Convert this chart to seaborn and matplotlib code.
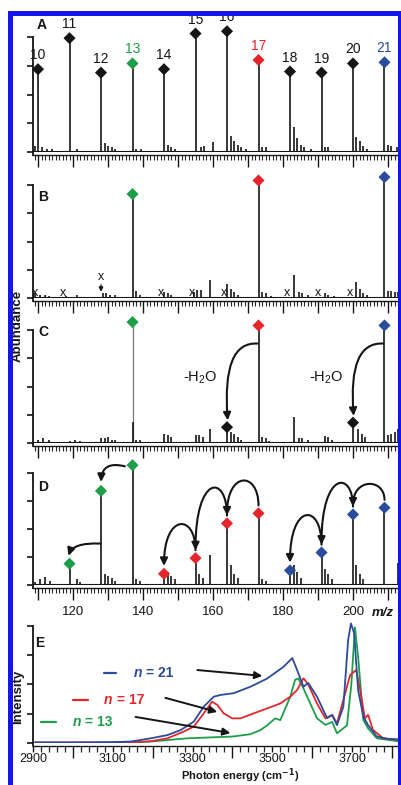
import numpy as np
import pandas as pd
import matplotlib
matplotlib.use("Agg")
import matplotlib.pyplot as plt
import seaborn as sns
from matplotlib.patches import FancyArrowPatch, Rectangle
from matplotlib.path import Path

# ---------------- data ----------------
# Ca2+(H2O)n clusters, m/z of each cluster size
cluster_n = [10, 11, 12, 13, 14, 15, 16, 17, 18, 19, 20, 21]
cluster_mz = [110, 119, 128, 137, 146, 155, 164, 173, 182, 191, 200, 209]

# A: full distribution
abund_a = [0.72, 0.99, 0.69, 0.77, 0.72, 1.03, 1.05, 0.80, 0.70, 0.69, 0.77, 0.78]
small_mz_a = [109, 111, 112.5, 114, 121, 129, 130, 131, 132, 138, 139.5, 147, 148, 149,
              156.5, 157.5, 160, 165, 166, 167, 168, 169.5, 174, 175, 183, 184, 185, 186,
              188, 192, 193, 201, 202, 203, 204, 210, 211, 212.5]
small_h_a = [0.05, 0.04, 0.03, 0.03, 0.03, 0.08, 0.05, 0.04, 0.03, 0.03, 0.03, 0.06, 0.04, 0.03,
             0.04, 0.05, 0.09, 0.14, 0.10, 0.06, 0.04, 0.03, 0.04, 0.04, 0.22, 0.12, 0.06, 0.04,
             0.03, 0.04, 0.04, 0.13, 0.10, 0.05, 0.03, 0.06, 0.05, 0.04]

# B: mass selected n = 13, 17, 21
sel_n = [13, 17, 21]
sel_mz = [137, 173, 209]
abund_b = [0.92, 1.04, 1.07]
xmark_mz = [109, 117, 128, 145, 154, 163, 181, 190, 199]
small_mz_b = [109, 110.5, 112, 113, 118, 121, 128.5, 129.5, 130.5, 132, 138, 139, 146, 147, 148,
              154.5, 155.5, 156.5, 159, 164, 165, 166, 167, 174, 175, 176.5, 183, 184.5, 185.5,
              187, 192, 193, 194.5, 201, 202, 203, 204, 210, 211, 212, 213]
small_h_b = [0.04, 0.03, 0.03, 0.02, 0.02, 0.03, 0.04, 0.04, 0.03, 0.03, 0.06, 0.03, 0.05, 0.04, 0.03,
             0.05, 0.07, 0.07, 0.16, 0.12, 0.08, 0.05, 0.03, 0.05, 0.04, 0.02, 0.20, 0.05, 0.04,
             0.03, 0.04, 0.03, 0.02, 0.14, 0.08, 0.04, 0.03, 0.06, 0.06, 0.05, 0.05]

# C: after irradiation at one wavenumber
abund_c = [1.07, 1.04, 1.04]
loss_mz = [164, 200]
loss_h = [0.14, 0.18]
small_mz_c = [110, 111.5, 113, 119, 120.5, 122, 128, 129, 130, 131, 132, 137, 138, 139, 146, 147,
              148, 155, 156, 157, 159, 165, 166, 167, 168, 174, 175, 176, 183, 184.5, 185.5, 187,
              192, 193, 194, 201.5, 202.5, 203.5, 210, 211, 212, 213]
small_h_c = [0.03, 0.04, 0.03, 0.02, 0.03, 0.02, 0.04, 0.04, 0.05, 0.03, 0.03, 0.19, 0.03, 0.03, 0.08, 0.07,
             0.05, 0.07, 0.07, 0.05, 0.12, 0.10, 0.08, 0.05, 0.03, 0.05, 0.04, 0.02, 0.23, 0.04, 0.04, 0.03,
             0.06, 0.05, 0.03, 0.12, 0.08, 0.05, 0.07, 0.08, 0.10, 0.12]

# D: sequential water loss
d_green_mz = [119, 128, 137]
d_green_h = [0.19, 0.84, 1.07]
d_red_mz = [146, 155, 164, 173]
d_red_h = [0.10, 0.24, 0.55, 0.64]
d_blue_mz = [182, 191, 200, 209]
d_blue_h = [0.13, 0.29, 0.63, 0.69]
red_hop_top = [0.54, 0.86, 0.93]
blue_hop_top = [0.62, 0.90, 0.90]
small_mz_d = [109, 110.5, 112, 113.5, 121, 122, 129, 130, 131, 132, 138, 139, 147, 148, 149,
              156, 157, 159, 165, 166, 167, 174, 175, 183, 184, 185, 192, 193, 194, 201, 202,
              203, 213]
small_h_d = [0.03, 0.05, 0.07, 0.04, 0.05, 0.03, 0.10, 0.08, 0.06, 0.04, 0.05, 0.04, 0.12, 0.08, 0.05,
             0.10, 0.06, 0.27, 0.18, 0.10, 0.06, 0.05, 0.04, 0.18, 0.12, 0.06, 0.14, 0.10, 0.05, 0.18, 0.10,
             0.05, 0.20]

# E: IR spectra
e_energy_21 = [2905, 3000, 3100, 3145, 3195, 3237, 3270, 3303, 3328, 3353, 3370, 3403, 3445, 3487,
               3528, 3550, 3565, 3578, 3590, 3612, 3637, 3650, 3662, 3678, 3690, 3697, 3705, 3715,
               3728, 3740, 3762, 3790, 3820]
e_int_21 = [0.02, 0.02, 0.03, 0.05, 0.16, 0.27, 0.44, 0.73, 1.24, 1.58, 1.64, 1.70, 1.92, 2.20,
            2.60, 2.90, 2.39, 1.92, 2.05, 1.58, 0.85, 0.95, 0.61, 1.24, 3.52, 4.08, 3.75, 1.81,
            0.90, 0.61, 0.22, 0.14, 0.12]
e_energy_17 = [2905, 3000, 3100, 3153, 3195, 3237, 3278, 3303, 3328, 3349, 3362, 3378, 3400, 3420,
               3453, 3487, 3520, 3545, 3562, 3578, 3590, 3612, 3633, 3650, 3662, 3678, 3695, 3710,
               3720, 3732, 3740, 3752, 3778, 3820]
e_int_17 = [0.02, 0.02, 0.02, 0.03, 0.06, 0.16, 0.39, 0.56, 1.01, 1.41, 1.30, 1.01, 0.84, 0.84,
            1.01, 1.18, 1.35, 1.58, 1.81, 2.21, 2.00, 1.35, 0.84, 0.96, 0.67, 1.47, 2.32, 2.49,
            1.81, 0.84, 0.96, 0.45, 0.16, 0.10]
e_energy_13 = [2905, 3000, 3100, 3150, 3195, 3237, 3287, 3362, 3400, 3445, 3470, 3487, 3507, 3520,
               3545, 3557, 3565, 3575, 3595, 3612, 3633, 3650, 3662, 3687, 3698, 3707, 3715, 3728,
               3740, 3762, 3820]
e_int_13 = [0.0, 0.0, 0.0, 0.02, 0.05, 0.10, 0.16, 0.20, 0.22, 0.30, 0.44, 0.60, 0.84, 0.78,
            1.58, 2.16, 2.20, 1.95, 1.35, 0.84, 0.62, 0.72, 0.33, 0.60, 2.00, 3.95, 2.95, 0.79,
            0.50, 0.16, 0.05]

GREEN, RED, BLUE, INK = "#1c9e48", "#e4262c", "#2b4c9c", "#151515"
n_color = {13: GREEN, 17: RED, 21: BLUE}

# ---------------- layout helpers (pixel based) ----------------
W, H = 402, 785
LEFT, RIGHT = 33, 400
MZ_LO, MZ_HI = 120 - 40 / 3.5, 120 + 327 / 3.5

sns.set_style("white")
plt.rcParams["font.family"] = ["Liberation Sans", "DejaVu Sans"]
plt.rcParams["axes.edgecolor"] = INK
plt.rcParams["mathtext.default"] = "regular"

fig = plt.figure(figsize=(W / 100, H / 100), dpi=100)


def px_axes(top, bottom, left=LEFT, right=RIGHT):
    ax = fig.add_axes([left / W, 1 - bottom / H, (right - left) / W, (bottom - top) / H])
    ax.patch.set_alpha(0)
    return ax


def fig_text(x, y, s, **kw):
    fig.text(x / W, 1 - y / H, s, **kw)


def ms_axes(top, base, tick):
    ax = px_axes(top, base)
    ax.set_xlim(MZ_LO, MZ_HI)
    ax.set_ylim(0, (base - top) / (base - tick))
    sns.despine(ax=ax)
    ax.spines["bottom"].set_position(("outward", 2.5))
    ax.spines["bottom"].set_linewidth(1.0)
    ax.spines["left"].set_linewidth(1.3)
    ax.spines["left"].set_bounds(-0.03, 1)
    ax.set_yticks([0, 0.25, 0.5, 0.75, 1])
    ax.set_yticklabels([])
    ax.set_xticks(np.arange(110, 214, 10))
    ax.set_xticks(np.arange(109, 214, 1), minor=True)
    ax.tick_params(axis="x", which="major", bottom=True, direction="out", length=8.5, width=1.0,
                   labelbottom=False, labelsize=9.5, pad=4, colors=INK)
    ax.tick_params(axis="x", which="minor", bottom=True, direction="out", length=3.6, width=0.8)
    ax.tick_params(axis="y", left=True, direction="out", length=4.3, width=1.3)
    ax.axhline(0, color=INK, lw=1.5, zorder=3)
    return ax


def stems(ax, mz, h, color=INK, lw=1.2):
    ax.vlines(mz, 0, h, colors=color, lw=lw, zorder=3)


def diamonds(ax, mz, h, n):
    df = pd.DataFrame({"mz": mz, "h": h, "n": [str(v) for v in n]})
    pal = {str(v): n_color.get(v, INK) for v in n}
    sns.scatterplot(data=df, x="mz", y="h", hue="n", palette=pal, marker="D", s=38,
                    edgecolor="none", legend=False, ax=ax, zorder=6, clip_on=False)
    ax.set_xlabel("")
    ax.set_ylabel("")


def curve_arrow(ax, verts, codes, lw=1.5):
    ax.add_patch(FancyArrowPatch(path=Path(verts, codes), arrowstyle="-|>,head_length=0.45,head_width=0.22",
                                 mutation_scale=10, lw=lw, color=INK, zorder=7, clip_on=False,
                                 transform=ax.transData))


def arch(ax, x0, y0, x1, y1, peak):
    ctrl = (peak - (y0 + y1) / 8) / 0.75
    curve_arrow(ax, [(x0, y0), (x0, ctrl), (x1, ctrl), (x1, y1)],
                [Path.MOVETO, Path.CURVE4, Path.CURVE4, Path.CURVE4])


def bend(ax, x0, y0, cx, cy, x1, y1):
    curve_arrow(ax, [(x0, y0), (cx, cy), (x1, y1)], [Path.MOVETO, Path.CURVE3, Path.CURVE3])


# ---------------- panel A ----------------
ax_a = ms_axes(15, 152, 37)
stems(ax_a, small_mz_a, small_h_a)
stems(ax_a, cluster_mz, abund_a)
diamonds(ax_a, cluster_mz, abund_a, cluster_n)
for n, mz, h in zip(cluster_n, cluster_mz, abund_a):
    ax_a.annotate(str(n), (mz, h), xytext=(0, 14), textcoords="offset pixels", ha="center",
                  va="center", fontsize=10, color=n_color.get(n, INK), zorder=8)
fig_text(42, 25, "A", fontsize=10, fontweight="bold", ha="center", va="center", color=INK)

# ---------------- panel B ----------------
ax_b = ms_axes(170, 298, 185)
stems(ax_b, small_mz_b, small_h_b)
stems(ax_b, sel_mz, abund_b)
diamonds(ax_b, sel_mz, abund_b, sel_n)
for mz in xmark_mz:
    if mz == 128:
        ax_b.text(mz, 0.19, "x", fontsize=9, ha="center", va="center", color=INK)
        ax_b.annotate("", (mz, 0.03), xytext=(mz, 0.14),
                      arrowprops=dict(arrowstyle="-|>,head_length=0.3,head_width=0.15",
                                      color=INK, lw=1.0, mutation_scale=8))
    else:
        ax_b.text(mz, 0.045, "x", fontsize=9, ha="center", va="center", color=INK, zorder=8)
fig_text(43, 197, "B", fontsize=10, fontweight="bold", ha="center", va="center", color=INK)

# ---------------- panel C ----------------
ax_c = ms_axes(310, 443, 330)
stems(ax_c, sel_mz[:1], abund_c[:1], color="#777777", lw=0.9)
stems(ax_c, small_mz_c, small_h_c)
stems(ax_c, sel_mz[1:], abund_c[1:])
stems(ax_c, loss_mz, loss_h)
diamonds(ax_c, sel_mz, abund_c, sel_n)
diamonds(ax_c, loss_mz, loss_h, [0, 0])
for src, dst, h in zip(sel_mz[1:], loss_mz, loss_h):
    bend(ax_c, src - 0.3, 0.88, dst - 1.5, 0.9, dst + 0.2, h + 0.06)
    ax_c.text(dst - 7.7, 0.58, "-H$_2$O", fontsize=10.5, ha="center", va="center", color=INK)
fig_text(43, 332, "C", fontsize=10, fontweight="bold", ha="center", va="center", color=INK)

# ---------------- panel D ----------------
ax_d = ms_axes(455, 585, 473)
stems(ax_d, small_mz_d, small_h_d)
stems(ax_d, d_green_mz + d_red_mz + d_blue_mz, d_green_h + d_red_h + d_blue_h)
diamonds(ax_d, d_green_mz, d_green_h, [13] * 3)
diamonds(ax_d, d_red_mz, d_red_h, [17] * 4)
diamonds(ax_d, d_blue_mz, d_blue_h, [21] * 4)
for mzs, hs, tops in [(d_red_mz, d_red_h, red_hop_top), (d_blue_mz, d_blue_h, blue_hop_top)]:
    for i in range(3):
        arch(ax_d, mzs[i + 1], hs[i + 1] + 0.07, mzs[i], hs[i] + 0.07, tops[i])
bend(ax_d, d_green_mz[2] - 2.2, d_green_h[2] - 0.01, d_green_mz[1] + 0.3, d_green_h[2] + 0.04,
     d_green_mz[1], d_green_h[1] + 0.08)
bend(ax_d, d_green_mz[1] - 0.2, 0.37, d_green_mz[0] + 1.0, 0.38, d_green_mz[0] - 0.3, d_green_h[0] + 0.07)
ax_d.set_xticklabels(["", "120", "", "140", "", "160", "", "180", "", "200", ""])
ax_d.tick_params(axis="x", which="major", labelbottom=True)
fig_text(43, 487, "D", fontsize=10, fontweight="bold", ha="center", va="center", color=INK)
fig_text(383, 613, "m/z", fontsize=9.5, fontweight="bold", fontstyle="italic", ha="center",
         va="center", color=INK)
fig_text(18, 326, "Abundance", fontsize=9.5, fontweight="bold", rotation=90, ha="center",
         va="center", color=INK)

# ---------------- panel E ----------------
ax_e = px_axes(620, 743)
spec = pd.concat([
    pd.DataFrame({"energy": e_energy_13, "intensity": e_int_13, "n": "13"}),
    pd.DataFrame({"energy": e_energy_17, "intensity": e_int_17, "n": "17"}),
    pd.DataFrame({"energy": e_energy_21, "intensity": e_int_21, "n": "21"}),
])
sns.lineplot(data=spec, x="energy", y="intensity", hue="n", estimator=None, sort=False,
             palette={"13": GREEN, "17": RED, "21": BLUE}, lw=1.3, legend=False, ax=ax_e)
ax_e.set_xlim(2905, 3820)
ax_e.set_ylim(0, 123 / 29.3)
ax_e.set_xlabel("")
ax_e.set_ylabel("")
sns.despine(ax=ax_e)
ax_e.spines["bottom"].set_position(("outward", 2.5))
ax_e.spines["bottom"].set_linewidth(1.0)
ax_e.spines["left"].set_linewidth(1.3)
ax_e.spines["left"].set_bounds(-0.1, 4)
ax_e.set_yticks([0, 1, 2, 3, 4])
ax_e.set_yticklabels([])
ax_e.set_xticks(np.arange(2900, 3801, 100))
ax_e.set_xticklabels(["2900", "", "3100", "", "3300", "", "3500", "", "3700", ""])
ax_e.set_xticks(np.arange(2900, 3821, 20), minor=True)
ax_e.tick_params(axis="x", which="major", bottom=True, direction="out", length=4.5, width=1.0,
                 labelsize=9, pad=0.5, colors=INK)
ax_e.tick_params(axis="x", which="minor", bottom=True, direction="out", length=4.5, width=0.9)
ax_e.tick_params(axis="y", left=True, direction="out", length=4.3, width=1.3)
for tk, v in zip(ax_e.xaxis.get_major_ticks(), np.arange(2900, 3801, 100)):
    if v % 200 == 0:
        tk.tick1line.set_markersize(8.5)

legend_rows = [("21", BLUE, 3078, 3108, 3152, 2.39, (3312, 2.49), (3475, 2.29)),
               ("17", RED, 3000, 3037, 3078, 1.47, (3232, 1.54), (3362, 1.06)),
               ("13", GREEN, 2920, 2957, 3000, 0.72, (3157, 0.89), (3395, 0.34))]
for lab, col, x0, x1, xt, y, a0, a1 in legend_rows:
    ax_e.plot([x0, x1], [y, y], color=col, lw=1.6)
    t1 = ax_e.text(xt, y, "n", fontsize=10, fontweight="bold", fontstyle="italic", color=col,
                   va="center", ha="left")
    ax_e.annotate(" = " + lab, xy=(1, 0.5), xycoords=t1, va="center", ha="left", fontsize=10,
                  fontweight="bold", color=col)
    ax_e.annotate("", a1, xytext=a0,
                  arrowprops=dict(arrowstyle="-|>,head_length=0.45,head_width=0.22", color=INK,
                                  lw=1.4, mutation_scale=10, shrinkA=0, shrinkB=0))
fig_text(40, 643, "E", fontsize=10, fontweight="bold", ha="center", va="center", color=INK)
fig_text(18, 697, "Intensity", fontsize=9.5, fontweight="bold", rotation=90, ha="center",
         va="center", color=INK)
fig_text(240, 784.7, "Photon energy (cm$^{\\mathbf{-1}}$)", fontsize=8, fontweight="bold",
         ha="center", va="bottom", color=INK)

# ---------------- blue frame ----------------
fig.add_artist(Rectangle((0, 1 - 10 / H), 1, 10 / H, transform=fig.transFigure,
                         facecolor="white", edgecolor="none", zorder=19))
fig.add_artist(Rectangle((0, 0), 8 / W, 1, transform=fig.transFigure,
                         facecolor="white", edgecolor="none", zorder=19))
fig.add_artist(Rectangle((10.5 / W, -0.05), (400 - 10.5) / W, 1.05 - 12.5 / H,
                         transform=fig.transFigure, facecolor="none", edgecolor="#1414ee",
                         lw=3.6, zorder=20))

fig.savefig("out.png", dpi=100)
